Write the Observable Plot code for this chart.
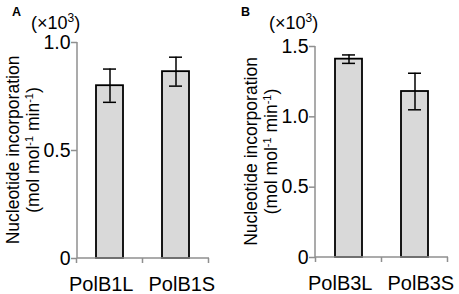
<!DOCTYPE html>
<html>
<head>
<meta charset="utf-8">
<script src="https://cdn.jsdelivr.net/npm/d3@7"></script>
<script src="https://cdn.jsdelivr.net/npm/@observablehq/plot@0.6"></script>
<style>
  html, body { margin: 0; padding: 0; background: #fff; }
  #wrap { display: flex; flex-direction: row; width: 459px; height: 294px; }
  #wrap svg { flex: none; font-family: "Liberation Sans", Arial, sans-serif; }
</style>
</head>
<body>
<div id="wrap"></div>
<script>
// ---- Data ----
const catsA = ["PolB1L", "PolB1S"];
const meansA = [0.80, 0.865];
const errA = [0.077, 0.067];
const yTicksA = [0, 0.5, 1.0];
const yMaxA = 1.0;

const catsB = ["PolB3L", "PolB3S"];
const meansB = [1.41, 1.18];
const errB = [0.03, 0.13];
const yTicksB = [0, 0.5, 1.0, 1.5];
const yMaxB = 1.5;

const AXIS = "#8f8f8f";
const TITLE_FONT = 17.5;
const YTICK_FONT = 19.5;
const XTICK_FONT = 20;

function decor(letter) {
  return (index, scales, values, dims) => {
    const x = scales.x, y = scales.y;
    const g = d3.create("svg:g").attr("text-anchor", "start");
    const L = dims.marginLeft, R = dims.width - dims.marginRight;
    const y0 = y(0), yTop = y(y.domain()[1]);
    // axis lines
    g.append("line").attr("x1", L).attr("x2", L).attr("y1", yTop).attr("y2", y0)
      .attr("stroke", AXIS).attr("stroke-width", 1.5);
    g.append("line").attr("x1", L).attr("x2", R).attr("y1", y0).attr("y2", y0)
      .attr("stroke", AXIS).attr("stroke-width", 1.5);
    // ticks at band edges
    const dom = x.domain();
    const step = x.step();
    const bw = x.bandwidth();
    const edges = dom.map(c => x(c) + bw / 2 - step / 2);
    edges.push(x(dom[dom.length - 1]) + bw / 2 + step / 2);
    for (const e of edges) {
      g.append("line").attr("x1", e).attr("x2", e).attr("y1", y0).attr("y2", y0 + 5)
        .attr("stroke", AXIS).attr("stroke-width", 1.5);
    }
    // category labels, spread away from the middle edge
    dom.forEach((c, i) => {
      const first = i === 0;
      const mid = edges[1];
      g.append("text")
        .attr("x", first ? mid - 9 : mid + 6)
        .attr("y", y0 + 33)
        .attr("text-anchor", first ? "end" : "start")
        .attr("font-size", XTICK_FONT).attr("fill", "#000")
        .text(c);
    });
    // y title (two lines, rotated)
    const cy = (yTop + y0) / 2;
    g.append("text")
      .attr("transform", `translate(${L - 58},${cy}) rotate(-90)`)
      .attr("text-anchor", "middle").attr("font-size", TITLE_FONT).attr("fill", "#000")
      .text("Nucleotide incorporation");
    const t2 = g.append("text")
      .attr("transform", `translate(${L - 38},${cy}) rotate(-90)`)
      .attr("text-anchor", "middle").attr("font-size", TITLE_FONT).attr("fill", "#000");
    t2.append("tspan").text("(mol mol");
    t2.append("tspan").attr("font-size", 11).attr("dy", -6).text("-1");
    t2.append("tspan").attr("dy", 6).text(" min");
    t2.append("tspan").attr("font-size", 11).attr("dy", -6).text("-1");
    t2.append("tspan").attr("dy", 6).text(")");
    // multiplier label
    const m = g.append("text").attr("x", L - 46).attr("y", 29)
      .attr("text-anchor", "start").attr("font-size", 18).attr("fill", "#000");
    m.append("tspan").text("(×10");
    m.append("tspan").attr("font-size", 12).attr("dy", -7).text("3");
    m.append("tspan").attr("dy", 7).text(")");
    // panel letter
    g.append("text").attr("x", 12).attr("y", 15.5).attr("font-size", 12.5)
      .attr("text-anchor", "start").attr("font-weight", "bold").attr("fill", "#000").text(letter);
    return g.node();
  };
}

function panel({cats, means, errs, ticks, yMax, letter, width, marginLeft, marginRight, marginTop, marginBottom}) {
  const rows = cats.map((c, i) => ({cat: c, mean: means[i], lo: means[i] - errs[i], hi: means[i] + errs[i]}));
  return Plot.plot({
    width, height: 294,
    marginLeft, marginRight, marginTop, marginBottom,
    style: {fontFamily: '"Liberation Sans", Arial, sans-serif', fontSize: YTICK_FONT + "px", color: "#000", background: "#fff", overflow: "visible"},
    x: {domain: cats, paddingInner: 0.59, paddingOuter: 0.295, label: null, axis: null},
    y: {domain: [0, yMax], label: null},
    marks: [
      Plot.barY(rows, {x: "cat", y: "mean", fill: "#d9d9d9", stroke: "#000", strokeWidth: 1.8}),
      Plot.ruleX(rows, {x: "cat", y1: "lo", y2: "hi", stroke: "#000", strokeWidth: 1.5}),
      Plot.tickY(rows, {x: "cat", y: "hi", stroke: "#000", strokeWidth: 1.5, insetLeft: 7, insetRight: 7}),
      Plot.tickY(rows, {x: "cat", y: "lo", stroke: "#000", strokeWidth: 1.5, insetLeft: 7, insetRight: 7}),
      Plot.axisY({ticks, tickSize: 6, tickPadding: 1, stroke: AXIS, strokeWidth: 1.5, fill: "#000", fontSize: YTICK_FONT,
        label: null, tickFormat: d => d === 0 ? "0" : d.toFixed(1)}),
      decor(letter)
    ]
  });
}

const wrap = document.getElementById("wrap");
wrap.append(panel({cats: catsA, means: meansA, errs: errA, ticks: yTicksA, yMax: yMaxA, letter: "A",
  width: 229, marginLeft: 77, marginRight: 20, marginTop: 42, marginBottom: 36}));
wrap.append(panel({cats: catsB, means: meansB, errs: errB, ticks: yTicksB, yMax: yMaxB, letter: "B",
  width: 230, marginLeft: 86, marginRight: 11, marginTop: 46, marginBottom: 37}));
</script>
</body>
</html>
